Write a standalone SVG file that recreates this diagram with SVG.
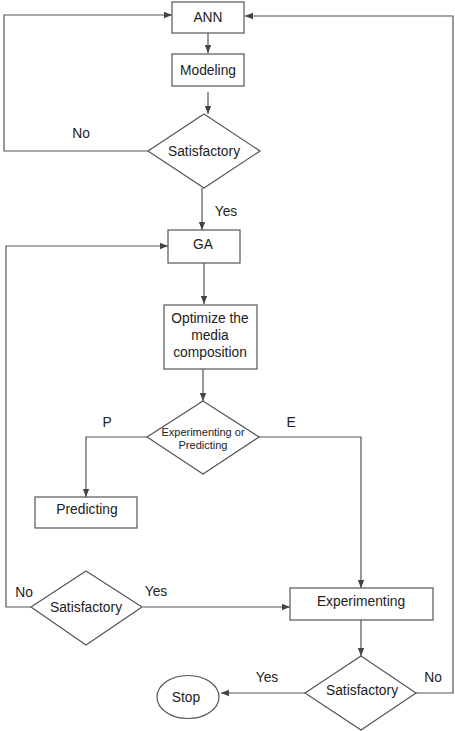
<svg xmlns="http://www.w3.org/2000/svg" width="455" height="731" viewBox="0 0 455 731">
<style>
.n{fill:#fff;stroke:#555;stroke-width:1.2}
.c{fill:none;stroke:#555;stroke-width:1.2}
text{font-family:"Liberation Sans",Arial,sans-serif;font-size:13.8px;fill:#222;text-anchor:middle}
.s{font-size:11px}
</style>
<defs>
<marker id="a" viewBox="0 0 10 10" refX="10" refY="5" markerWidth="8" markerHeight="8" markerUnits="userSpaceOnUse" orient="auto">
<path d="M0,1 L10,5 L0,9 z" fill="#444"/>
</marker>
</defs>
<rect width="455" height="731" fill="#fff"/>
<g id="connectors">
<path class="c" d="M208,33 V53" marker-end="url(#a)"/>
<path class="c" d="M208,92 V114" marker-end="url(#a)"/>
<path class="c" d="M148,151 H4 V15 H172" marker-end="url(#a)"/>
<path class="c" d="M202,188 V230" marker-end="url(#a)"/>
<path class="c" d="M204,263 V304" marker-end="url(#a)"/>
<path class="c" d="M203,369 V401" marker-end="url(#a)"/>
<path class="c" d="M147,437 H86 V497" marker-end="url(#a)"/>
<path class="c" d="M259,437 H361 V588" marker-end="url(#a)"/>
<path class="c" d="M31,607 H6 V246 H168" marker-end="url(#a)"/>
<path class="c" d="M143,607 H290" marker-end="url(#a)"/>
<path class="c" d="M361,620 V656" marker-end="url(#a)"/>
<path class="c" d="M416,693 H453 V16 H245" marker-end="url(#a)"/>
<path class="c" d="M305,693 H221" marker-end="url(#a)"/>
<text x="81" y="138">No</text>
<text x="226" y="216">Yes</text>
<text x="107" y="427">P</text>
<text x="291" y="427">E</text>
<text x="24" y="597">No</text>
<text x="156" y="596">Yes</text>
<text x="433" y="682">No</text>
<text x="267" y="682">Yes</text>
</g>
<g id="ann"><rect class="n" x="172" y="2" width="72" height="31"/><text x="208" y="22">ANN</text></g>
<g id="modeling"><rect class="n" x="172" y="54" width="72" height="32"/><text x="208" y="74.5">Modeling</text></g>
<g id="sat1"><polygon class="n" points="204,114 260,151 204,188 148,151"/><text x="204" y="155.5">Satisfactory</text></g>
<g id="ga"><rect class="n" x="168" y="230" width="72" height="33"/><text x="203" y="249">GA</text></g>
<g id="optimize"><rect class="n" x="164" y="305" width="93" height="64"/><text x="210" y="323">Optimize the</text><text x="210" y="340">media</text><text x="210" y="357">composition</text></g>
<g id="exppred"><polygon class="n" points="203,401 259,437 203,474 147,437"/><text class="s" x="203" y="436">Experimenting or</text><text class="s" x="203" y="449">Predicting</text></g>
<g id="predicting"><rect class="n" x="35" y="497" width="102" height="31"/><text x="87" y="514">Predicting</text></g>
<g id="sat2"><polygon class="n" points="86,571 142,607 86,645 31,607"/><text x="86" y="611.5">Satisfactory</text></g>
<g id="experimenting"><rect class="n" x="290" y="588" width="143" height="32"/><text x="361" y="605.5">Experimenting</text></g>
<g id="sat3"><polygon class="n" points="361,656 416,693 361,730 305,693"/><text x="362" y="695">Satisfactory</text></g>
<g id="stop"><ellipse class="n" cx="188" cy="697" rx="31" ry="21.5"/><text x="186" y="701.5">Stop</text></g>
</svg>
